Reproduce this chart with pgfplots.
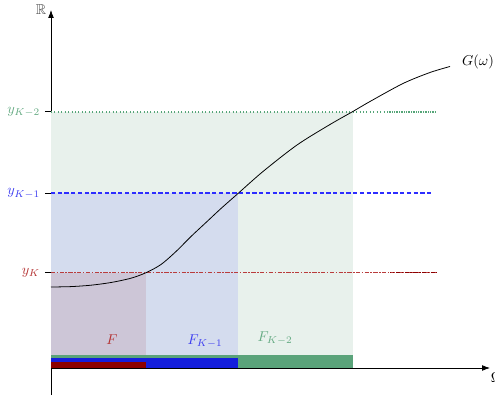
\documentclass[border=0pt]{standalone}
\usepackage{amssymb}
\usepackage{pgfplots}
\pgfplotsset{compat=1.18}
\usetikzlibrary{arrows.meta}
\definecolor{regG}{RGB}{232,241,236}
\definecolor{regB}{RGB}{212,220,238}
\definecolor{regR}{RGB}{205,198,215}
\definecolor{barG}{RGB}{90,163,122}
\definecolor{barB}{RGB}{20,30,220}
\definecolor{barR}{RGB}{140,0,0}
\definecolor{labR}{RGB}{180,50,50}
\definecolor{labB}{RGB}{60,60,240}
\definecolor{labG}{RGB}{100,170,130}
\definecolor{lvR}{RGB}{185,60,60}
\definecolor{lvB}{RGB}{45,45,255}
\definecolor{lvG}{RGB}{85,165,120}
\begin{document}
\begin{tikzpicture}
\begin{axis}[
  x=7pt, y=7pt,
  axis lines=middle,
  xmin=0, xmax=43.9, ymin=-2.7, ymax=35.8,
  enlargelimits=false,
  clip=false,
  axis line style={line width=0.5pt, -{Latex[length=5.5pt,width=4pt]}},
  xtick=\empty,
  ytick={9.53,17.45,25.63},
  yticklabels={{\color{labR}$y_K$},{\color{labB}$y_{K-1}$},{\color{labG}$y_{K-2}$}},
  tick align=outside,
  major tick length=4.2pt,
  tick style={black, line width=0.5pt},
]
% shaded regions
\addplot[fill=regG, draw=none] coordinates {(0,0) (30.15,0) (30.15,25.63) (0,25.63)} -- cycle;
\addplot[fill=regB, draw=none] coordinates {(0,0) (18.7,0) (18.7,17.45) (0,17.45)} -- cycle;
\addplot[fill=regR, draw=none] coordinates {(0,0) (9.5,0) (9.5,9.53) (0,9.53)} -- cycle;
% bars at the bottom
\addplot[fill=barG, draw=none] coordinates {(0,0) (30.15,0) (30.15,1.3) (0,1.3)} -- cycle;
\addplot[fill=barB, draw=none] coordinates {(0,0) (18.7,0) (18.7,0.97) (0,0.97)} -- cycle;
\addplot[fill=barR, draw=none] coordinates {(0,0) (9.5,0) (9.5,0.57) (0,0.57)} -- cycle;
% level lines
\addplot[lvG, line width=1.4pt, dash pattern=on 0.7pt off 1.7pt] coordinates {(0,25.63) (38.57,25.63)};
\addplot[lvG, line width=1.4pt, dash pattern=on 0.7pt off 1.7pt, dash phase=1.2pt] coordinates {(33.6,25.63) (38.57,25.63)};
\addplot[lvB, line width=1.4pt, dash pattern=on 3pt off 1.7pt] coordinates {(0,17.45) (38.2,17.45)};
\addplot[lvR, line width=1.1pt, densely dashdotted] coordinates {(0,9.53) (38.57,9.53)};
\addplot[barR, line width=1.1pt, densely dashdotted, dash phase=2pt] coordinates {(33.9,9.53) (38.57,9.53)};
% curve G
\addplot[black, line width=0.55pt, smooth] coordinates {
(0,8.10) (2,8.14) (4,8.28) (6,8.55) (8,8.98) (9.5,9.53) (11,10.35)
(12.5,11.65) (14,13.15) (15.5,14.55) (17,15.95) (18.7,17.45) (21.2,19.65)
(24.6,22.3) (27.9,24.35) (30.15,25.63) (31.9,26.65) (35.2,28.45)
(37.9,29.55) (39.9,30.15)};
% labels
\node[text=labR] at (axis cs:6.1,2.8) {$F$};
\node[text=labB] at (axis cs:15.4,2.7) {$F_{K-1}$};
\node[text=labG] at (axis cs:22.4,3.0) {$F_{K-2}$};
\node at (axis cs:42.7,30.6) {$G(\omega)$};
\node[text=black!70] at (axis cs:-1.0,35.85) {$\mathbb{R}$};
\node at (axis cs:44.5,-1.0) {$\Omega$};
\coordinate (bl) at (axis cs:-5.1,-3.2);
\coordinate (tr) at (axis cs:44.4,36.8);
\end{axis}
\pgfresetboundingbox
\useasboundingbox (bl) rectangle (tr);
\end{tikzpicture}
\end{document}
